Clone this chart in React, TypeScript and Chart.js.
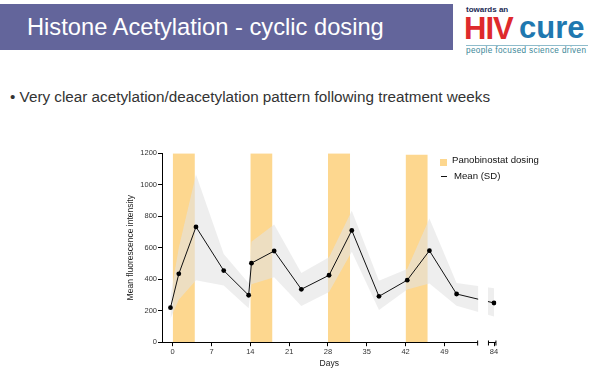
import React, { useEffect, useRef } from "react";
import { Chart, registerables } from "chart.js";

Chart.register(...registerables);

// ---- data ----
const tickDays = [0, 7, 14, 21, 28, 35, 42, 49, 84];
const tickLabels = ["0", "7", "14", "21", "28", "35", "42", "49", "84"];
const sampleDays = [-0.4, 1.1, 4.2, 9.2, 13.7, 14.2, 18.3, 23.2, 28.2, 32.3, 37.2, 42.3, 46.3, 51.2, 84];
const meanValues = [219, 434, 732, 455, 298, 502, 579, 336, 425, 710, 291, 394, 581, 306, 249];
const sdUpper = [290, 600, 1065, 560, 375, 638, 748, 440, 540, 835, 390, 465, 786, 376, 342];
const sdLower = [150, 270, 393, 360, 215, 368, 412, 230, 318, 575, 204, 335, 372, 232, 163];
const dosingStart = [0, 14, 28, 42];
const dosingEnd = [4, 18, 32, 46];
const dosingTop = [1200, 1200, 1200, 1190];
const yTickValues = [0, 200, 400, 600, 800, 1000, 1200];

// axis break: days after the break are shifted next to the main range
const BREAK_AT = 56;
const AFTER_BREAK_POS = 57.95; // axis position where day 84 sits
const MAIN_AXIS_END = 55.0;
const SEG_START = 56.95;
const SEG_END = 58.3;
const toAxis = (d: number) => (d <= BREAK_AT ? d : AFTER_BREAK_POS + (d - 84));

const FONT = "'Liberation Sans', Arial, sans-serif";

const axisBreakPlugin = {
  id: "axisBreak",
  afterDatasetsDraw(chart: any) {
    const { ctx, chartArea, scales } = chart;
    const x = scales.x;
    const xa = x.getPixelForValue(MAIN_AXIS_END);
    const xb = x.getPixelForValue(SEG_START);
    const xc = x.getPixelForValue(SEG_END);
    const y = Math.round(chartArea.bottom) + 0.5;
    ctx.save();
    ctx.fillStyle = "#ffffff";
    ctx.fillRect(xa + 0.5, chartArea.top - 2, xb - xa - 1, chartArea.bottom - chartArea.top + 1);
    ctx.strokeStyle = "#000";
    ctx.lineWidth = 1;
    ctx.beginPath();
    ctx.moveTo(chartArea.left, y);
    ctx.lineTo(xa, y);
    ctx.moveTo(xa, y - 2);
    ctx.lineTo(xa, y + 3);
    ctx.moveTo(xb, y);
    ctx.lineTo(xc, y);
    ctx.moveTo(xb, y - 2);
    ctx.lineTo(xb, y + 3);
    ctx.moveTo(xc, y - 2);
    ctx.lineTo(xc, y + 3);
    ctx.stroke();
    ctx.restore();
  },
};

function ChartCanvas() {
  const ref = useRef<HTMLCanvasElement | null>(null);
  useEffect(() => {
    if (!ref.current) return;
    const pts = (vals: number[]) => sampleDays.map((d, i) => ({ x: toAxis(d), y: vals[i] }));
    const dosingSets = dosingStart.map((s, i) => ({
      label: i === 0 ? "Panobinostat dosing" : "",
      data: [
        { x: s, y: dosingTop[i] },
        { x: dosingEnd[i], y: dosingTop[i] },
      ],
      fill: "origin",
      backgroundColor: "#FDD78F",
      borderWidth: 0,
      pointRadius: 0,
    }));
    const chart = new Chart(ref.current, {
      type: "line",
      data: {
        datasets: [
          {
            label: "Mean (SD)",
            data: pts(meanValues),
            borderColor: "#111",
            borderWidth: 1,
            pointRadius: 2.4,
            pointBackgroundColor: "#000",
            pointBorderColor: "#000",
            pointBorderWidth: 0,
            fill: false,
          },
          {
            label: "SD upper",
            data: pts(sdUpper),
            borderWidth: 0,
            pointRadius: 0,
            fill: "+1",
            backgroundColor: "rgba(226,226,226,0.6)",
          },
          {
            label: "SD lower",
            data: pts(sdLower),
            borderWidth: 0,
            pointRadius: 0,
            fill: false,
          },
          ...dosingSets,
        ] as any,
      },
      options: {
        animation: false,
        responsive: false,
        events: [],
        layout: { padding: { top: 13.2, right: 23.5, left: 0, bottom: 0 } },
        plugins: { legend: { display: false }, tooltip: { enabled: false } },
        scales: {
          x: {
            type: "linear",
            min: -1.93,
            max: 58.4,
            border: { display: false },
            grid: { drawOnChartArea: false, drawTicks: true, tickLength: 4, color: "#000" },
            afterBuildTicks: (scale: any) => {
              scale.ticks = tickDays.map((d) => ({ value: toAxis(d) }));
            },
            afterFit: (scale: any) => {
              scale.height = 34.8;
            },
            ticks: {
              autoSkip: false,
              maxRotation: 0,
              padding: 1,
              color: "#333",
              font: { family: FONT, size: 7.5 },
              callback: (_v: any, i: number) => tickLabels[i],
            },
            title: {
              display: true,
              text: "Days",
              color: "#222",
              font: { family: FONT, size: 8.5 },
              padding: { top: 0, bottom: 7.9 },
            },
          },
          y: {
            type: "linear",
            min: 0,
            max: 1200,
            border: { display: true, color: "#000", width: 1 },
            grid: { drawOnChartArea: false, drawTicks: true, tickLength: 4, color: "#000" },
            afterBuildTicks: (scale: any) => {
              scale.ticks = yTickValues.map((v) => ({ value: v }));
            },
            afterFit: (scale: any) => {
              scale.width = 62;
            },
            ticks: {
              padding: 1,
              color: "#333",
              font: { family: FONT, size: 7.5 },
              callback: (v: any) => String(v),
            },
            title: {
              display: true,
              text: "Mean fluorescence intensity",
              color: "#222",
              font: { family: FONT, size: 8.5 },
              padding: { top: 25.6, bottom: 0 },
            },
          },
        },
      } as any,
      plugins: [axisBreakPlugin],
    });
    return () => chart.destroy();
  }, []);
  return (
    <canvas
      ref={ref}
      width={420}
      height={237}
      style={{ position: "absolute", left: 100, top: 140, width: 420, height: 237 }}
    />
  );
}

export default function App() {
  return (
    <div
      style={{
        position: "fixed",
        left: 0,
        top: 0,
        width: 600,
        height: 377,
        overflow: "hidden",
        background: "#fff",
        fontFamily: FONT,
      }}
    >
      {/* title bar */}
      <div style={{ position: "absolute", left: 0, top: 4, width: 453, height: 46, background: "#63659B" }} />
      <div
        style={{
          position: "absolute",
          left: 27,
          top: 13,
          fontSize: 23.7,
          lineHeight: "28px",
          color: "#fff",
          whiteSpace: "nowrap",
        }}
      >
        Histone Acetylation - cyclic dosing
      </div>
      {/* logo */}
      <div style={{ position: "absolute", left: 466, top: 5, fontSize: 8, fontWeight: 700, color: "#1B2A55", fontFamily: "'Liberation Sans Narrow', " + FONT }}>
        towards an
      </div>
      <div style={{ position: "absolute", left: 464, top: 13, fontSize: 31, fontWeight: 900, color: "#DE2A2C", lineHeight: "32px", letterSpacing: -1 }}>
        HIV
      </div>
      <div style={{ position: "absolute", left: 519, top: 12, fontSize: 31, fontWeight: 700, color: "#1F78B0", lineHeight: "32px" }}>
        cure
      </div>
      <div style={{ position: "absolute", left: 466, top: 45, width: 122, height: 1, background: "#8FBCCB" }} />
      <div style={{ position: "absolute", left: 466, top: 46, fontSize: 8.2, letterSpacing: 0.35, color: "#3C8797", whiteSpace: "nowrap" }}>
        people focused science driven
      </div>
      {/* bullet */}
      <div style={{ position: "absolute", left: 10, top: 88, fontSize: 15.25, color: "#333", whiteSpace: "nowrap", lineHeight: "18px" }}>
        • Very clear acetylation/deacetylation pattern following treatment weeks
      </div>
      <ChartCanvas />
      {/* legend */}
      <div style={{ position: "absolute", left: 440, top: 159, width: 7, height: 7, background: "#FDD78F" }} />
      <div style={{ position: "absolute", left: 452, top: 154, fontSize: 9.6, color: "#111", whiteSpace: "nowrap", lineHeight: "12px" }}>
        Panobinostat dosing
      </div>
      <div style={{ position: "absolute", left: 441, top: 176, width: 6, height: 1, background: "#111" }} />
      <div style={{ position: "absolute", left: 454, top: 170, fontSize: 9.6, color: "#111", whiteSpace: "nowrap", lineHeight: "12px" }}>
        Mean (SD)
      </div>
    </div>
  );
}
